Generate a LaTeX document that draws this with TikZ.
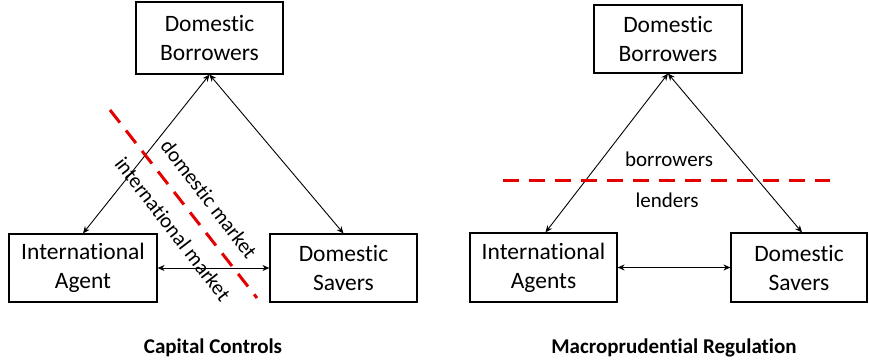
\documentclass[tikz,border=0pt]{standalone}
\usepackage{fontspec}
\setmainfont[Ligatures={NoCommon}]{Carlito}
\usetikzlibrary{arrows.meta}
\definecolor{cutred}{RGB}{228,0,0}
\begin{document}
\begin{tikzpicture}[x=1pt,y=-1pt,
  agent/.style={draw, line width=1.2pt, align=center, inner sep=0pt,
    font=\fontsize{23.5}{29}\selectfont},
  link/.style={line width=0.9pt, {Stealth[length=7pt,width=6pt]}-{Stealth[length=7pt,width=6pt]}},
  cut/.style={draw=cutred, line width=3pt, dash pattern=on 16pt off 10pt},
  lbl/.style={font=\fontsize{21}{25}\selectfont, inner sep=0pt},
  caption/.style={font=\fontsize{21}{25}\selectfont\bfseries, anchor=base, inner sep=0pt}]
\useasboundingbox (0,0) rectangle (869,361);

% ---- Capital controls ----
\node[agent, minimum width=147pt, minimum height=72pt] (lb) at (209.5,38) {Domestic\\Borrowers};
\node[agent, minimum width=148pt, minimum height=68pt] (la) at (83,268) {International\\Agent};
\node[agent, minimum width=147pt, minimum height=68pt] (ls) at (343.5,268) {Domestic\\Savers};

\draw[link] (lb.south) -- (la.north);
\draw[link] (lb.south) -- (ls.north);
\draw[link] (la.east) -- (ls.west);

\coordinate (lcA) at (110,110);
\coordinate (lcB) at (257,298);
\draw[cut] (lcA) -- (lcB);

\node[lbl, rotate=-52.4] (ldom) at (209,199) {domestic market};
\node[lbl, rotate=-52.4] (lint) at (173,229) {international market};

\node[caption] (lcap) at (213,353) {Capital Controls};

% ---- Macroprudential regulation ----
\node[agent, minimum width=148pt, minimum height=68pt] (rb) at (668,39) {Domestic\\Borrowers};
\node[agent, minimum width=147pt, minimum height=69pt] (ra) at (543.5,267.5) {International\\Agents};
\node[agent, minimum width=136pt, minimum height=69pt] (rs) at (799,267.5) {Domestic\\Savers};

\draw[link] (rb.south) -- ([xshift=2pt]ra.north);
\draw[link] (rb.south) -- ([xshift=3pt]rs.north);
\draw[link] (ra.east) -- (rs.west);

\coordinate (rcA) at (503,180);
\coordinate (rcB) at (830,180);
\draw[cut] (rcA) -- (rcB);

\node[lbl, anchor=base] (rbor) at (669,166) {borrowers};
\node[lbl, anchor=base] (rlen) at (667,207) {lenders};

\node[caption] (rcap) at (674,353) {Macroprudential Regulation};
\end{tikzpicture}
\end{document}
